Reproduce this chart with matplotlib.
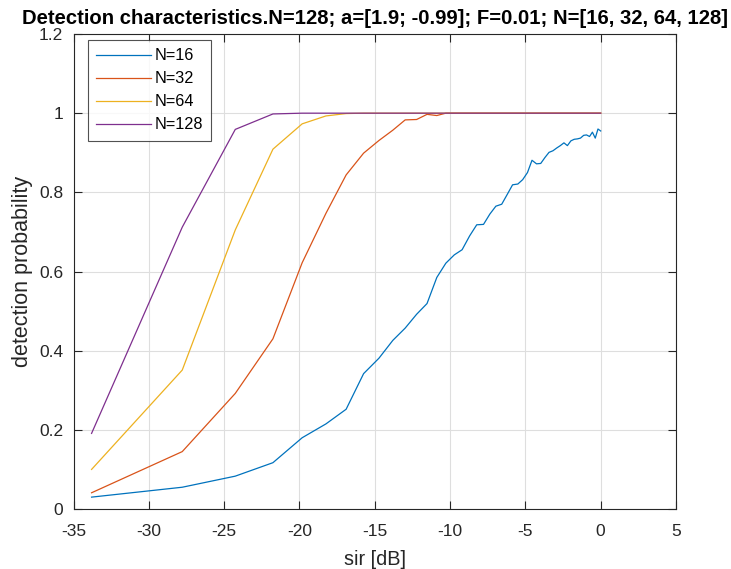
import matplotlib
matplotlib.use("Agg")
import matplotlib.pyplot as plt
from matplotlib import font_manager

names = {f.name for f in font_manager.fontManager.ttflist}
narrow = "Liberation Sans Narrow" if "Liberation Sans Narrow" in names else "Liberation Sans"

sir = [-33.80, -27.78, -24.26, -21.76, -19.82, -18.24, -16.90, -15.74, -14.72, -13.80,
       -12.98, -12.22, -11.53, -10.88, -10.28, -9.72, -9.20, -8.70, -8.23, -7.78,
       -7.36, -6.96, -6.57, -6.20, -5.85, -5.50, -5.18, -4.86, -4.56, -4.26,
       -3.98, -3.70, -3.43, -3.17, -2.92, -2.68, -2.44, -2.21, -1.98, -1.76,
       -1.55, -1.34, -1.13, -0.94, -0.74, -0.55, -0.36, -0.18, 0.00]

p16 = [0.030, 0.055, 0.083, 0.117, 0.180, 0.215, 0.252, 0.342, 0.381, 0.426,
       0.457, 0.492, 0.519, 0.585, 0.621, 0.642, 0.655, 0.690, 0.718, 0.719,
       0.745, 0.765, 0.770, 0.795, 0.819, 0.821, 0.832, 0.850, 0.881, 0.872,
       0.873, 0.888, 0.901, 0.905, 0.912, 0.918, 0.925, 0.918, 0.930, 0.934,
       0.935, 0.937, 0.944, 0.945, 0.941, 0.952, 0.937, 0.960, 0.955]

p32 = [0.041, 0.145, 0.292, 0.430, 0.622, 0.747, 0.844, 0.899, 0.931, 0.957,
       0.983, 0.984, 0.997, 0.994, 1.000, 1.000, 1.000, 1.000, 1.000, 1.000,
       1.000, 1.000, 1.000, 1.000, 1.000, 1.000, 1.000, 1.000, 1.000, 1.000,
       1.000, 1.000, 1.000, 1.000, 1.000, 1.000, 1.000, 1.000, 1.000, 1.000,
       1.000, 1.000, 1.000, 1.000, 1.000, 1.000, 1.000, 1.000, 1.000]

p64 = [0.100, 0.351, 0.705, 0.909, 0.973, 0.993, 0.999, 1.000, 1.000, 1.000,
       1.000, 1.000, 1.000, 1.000, 1.000, 1.000, 1.000, 1.000, 1.000, 1.000,
       1.000, 1.000, 1.000, 1.000, 1.000, 1.000, 1.000, 1.000, 1.000, 1.000,
       1.000, 1.000, 1.000, 1.000, 1.000, 1.000, 1.000, 1.000, 1.000, 1.000,
       1.000, 1.000, 1.000, 1.000, 1.000, 1.000, 1.000, 1.000, 1.000]

p128 = [0.191, 0.712, 0.959, 0.998, 1.000, 1.000, 1.000, 1.000, 1.000, 1.000,
        1.000, 1.000, 1.000, 1.000, 1.000, 1.000, 1.000, 1.000, 1.000, 1.000,
        1.000, 1.000, 1.000, 1.000, 1.000, 1.000, 1.000, 1.000, 1.000, 1.000,
        1.000, 1.000, 1.000, 1.000, 1.000, 1.000, 1.000, 1.000, 1.000, 1.000,
        1.000, 1.000, 1.000, 1.000, 1.000, 1.000, 1.000, 1.000, 1.000]

series_labels = ["N=16", "N=32", "N=64", "N=128"]
xticks = [-35, -30, -25, -20, -15, -10, -5, 0, 5]
xtick_labels = ["-35", "-30", "-25", "-20", "-15", "-10", "-5", "0", "5"]
yticks = [0, 0.2, 0.4, 0.6, 0.8, 1, 1.2]
ytick_labels = ["0", "0.2", "0.4", "0.6", "0.8", "1", "1.2"]

colors = ["#0072BD", "#D95319", "#EDB120", "#7E2F8E"]
axcol = "#262626"

plt.rcParams["font.family"] = ["Liberation Sans", "DejaVu Sans"]

fig = plt.figure(figsize=(7.31, 5.69), dpi=100)
ax = fig.add_axes([73.5 / 731, 60 / 569, (676 - 73.5) / 731, (509 - 34) / 569])

for ys, lab, c in zip([p16, p32, p64, p128], series_labels, colors):
    ax.plot(sir, ys, color=c, lw=0.9, label=lab)

ax.set_xlim(-35, 5)
ax.set_ylim(0, 1.2)
ax.set_xticks(xticks)
ax.set_xticklabels(xtick_labels)
ax.set_yticks(yticks)
ax.set_yticklabels(ytick_labels)
ax.grid(True, color="#dedede", lw=0.8)
ax.set_axisbelow(True)
ax.tick_params(direction="in", length=6, width=0.8, colors=axcol, labelsize=12.5,
               top=True, right=True)
ax.tick_params(axis="x", pad=11)
ax.tick_params(axis="y", pad=7.5)
for s in ax.spines.values():
    s.set_color(axcol)
    s.set_linewidth(0.8)

ax.set_xlabel("sir [dB]", fontsize=14.3, color=axcol, labelpad=7.5)
ax.set_ylabel("detection probability", fontsize=15.5, color=axcol, labelpad=4)
ax.set_title("Detection characteristics.N=128; a=[1.9; -0.99]; F=0.01; N=[16, 32, 64, 128]",
             fontsize=14.6, fontweight="bold", color="black", pad=7,
             family=[narrow, "DejaVu Sans"])

leg = ax.legend(loc="upper left", bbox_to_anchor=(14 / 602.5, 1 - 6 / 475), fontsize=11.7,
                frameon=True, fancybox=False, handlelength=3.4, handletextpad=0.2,
                labelspacing=0.49, borderpad=0.52, borderaxespad=0)
leg.get_frame().set_edgecolor(axcol)
leg.get_frame().set_linewidth(0.8)

fig.savefig("out.png", dpi=100)
